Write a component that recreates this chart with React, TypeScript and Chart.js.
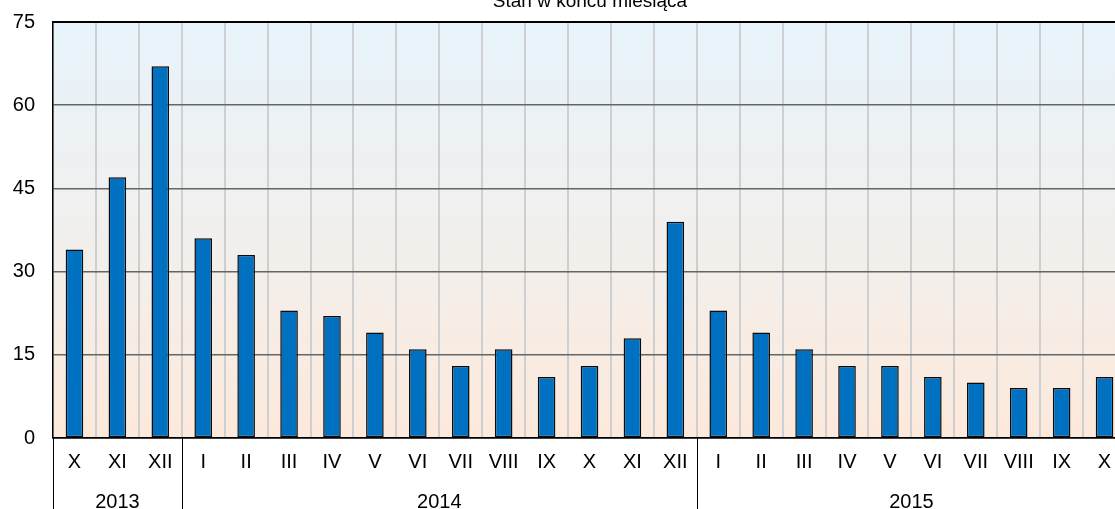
import React, { useEffect, useRef } from "react";
import { Chart, registerables } from "chart.js";

Chart.register(...registerables);

const months = [
  "X", "XI", "XII",
  "I", "II", "III", "IV", "V", "VI", "VII", "VIII", "IX", "X", "XI", "XII",
  "I", "II", "III", "IV", "V", "VI", "VII", "VIII", "IX", "X",
];
const values = [
  34, 47, 67,
  36, 33, 23, 22, 19, 16, 13, 16, 11, 13, 18, 39,
  23, 19, 16, 13, 13, 11, 10, 9, 9, 11,
];
const years = ["2013", "2014", "2015"];
const yearCounts = [3, 12, 10];
const yTicks = [0, 15, 30, 45, 60, 75];
const titleText = "Stan w końcu miesiąca";

const FONT = "'Liberation Sans', Arial, sans-serif";

const bgPlugin = {
  id: "bgGradient",
  beforeDraw(chart: any) {
    const { ctx, chartArea } = chart;
    const g = ctx.createLinearGradient(0, chartArea.top, 0, chartArea.bottom);
    g.addColorStop(0, "#e7f3fb");
    g.addColorStop(0.5, "#f1f0ee");
    g.addColorStop(1, "#fde9db");
    ctx.save();
    ctx.fillStyle = g;
    ctx.fillRect(chartArea.left, chartArea.top, chartArea.right - chartArea.left, chartArea.bottom - chartArea.top);
    ctx.restore();
  },
};

const yearPlugin = {
  id: "yearLabels",
  afterDraw(chart: any) {
    const { ctx, chartArea } = chart;
    const x = chart.scales.x;
    const H = chart.height;
    ctx.save();
    ctx.strokeStyle = "#000";
    ctx.lineWidth = 1;
    ctx.fillStyle = "#000";
    ctx.font = `20px ${FONT}`;
    ctx.textAlign = "center";
    ctx.textBaseline = "middle";
    let start = 0;
    const half = (x.getPixelForValue(1) - x.getPixelForValue(0)) / 2;
    for (let i = 0; i < years.length; i++) {
      const end = start + yearCounts[i] - 1;
      const left = x.getPixelForValue(start) - half;
      const right = x.getPixelForValue(end) + half;
      const lx = Math.round(left) + 0.5;
      ctx.beginPath();
      ctx.moveTo(lx, chartArea.bottom);
      ctx.lineTo(lx, H);
      ctx.stroke();
      ctx.fillText(years[i], (left + right) / 2, 502);
      start = end + 1;
    }
    // title
    ctx.font = `19px ${FONT}`;
    ctx.textBaseline = "alphabetic";
    ctx.fillText(titleText, 590, 7);
    // top border
    ctx.beginPath();
    ctx.lineWidth = 2;
    ctx.moveTo(chartArea.left, chartArea.top);
    ctx.lineTo(chartArea.right, chartArea.top);
    ctx.stroke();
    ctx.restore();
  },
};

export default function App() {
  const ref = useRef<HTMLCanvasElement>(null);
  useEffect(() => {
    const canvas = ref.current!;
    const chart = new Chart(canvas, {
      type: "bar",
      data: {
        labels: months,
        datasets: [
          {
            data: values,
            backgroundColor: "#0070c0",
            borderColor: "#0a0a0a",
            borderWidth: 1.5,
            borderSkipped: false,
            barPercentage: 0.41,
            categoryPercentage: 1,
          },
        ],
      },
      options: {
        responsive: false,
        animation: false,
        layout: { padding: { left: 0, top: 22, right: 0, bottom: 0 } },
        plugins: { legend: { display: false }, title: { display: false }, tooltip: { enabled: false } },
        scales: {
          x: {
            offset: true,
            grid: { offset: true, color: "#cdcfd0", drawTicks: false, lineWidth: 2 },
            border: { display: true, color: "#000", width: 1.5 },
            ticks: { color: "#000", font: { size: 20, family: FONT }, padding: 12, maxRotation: 0, autoSkip: false },
            afterFit(scale: any) { scale.height = 71; scale.paddingLeft = 0; scale.paddingRight = 0; },
          },
          y: {
            min: 0,
            max: 75,
            afterBuildTicks(scale: any) { scale.ticks = yTicks.map((v) => ({ value: v })); },
            grid: {
              color: (c: any) => (c.tick && (c.tick.value === 75 || c.tick.value === 0) ? "#000" : "#626666"),
              drawTicks: false,
              lineWidth: 1.5,
            },
            border: { display: true, color: "#000", width: 1.5 },
            ticks: { color: "#000", font: { size: 20, family: FONT }, padding: 18 },
            afterFit(scale: any) { scale.width = 53; scale.paddingTop = 0; scale.paddingBottom = 0; },
          },
        },
      },
      plugins: [bgPlugin, yearPlugin],
    });
    return () => chart.destroy();
  }, []);
  return (
    <div style={{ position: "fixed", left: 0, top: 0, width: 1115, height: 509, overflow: "hidden", background: "#fff" }}>
      <canvas ref={ref} width={1126} height={509} style={{ display: "block" }} />
    </div>
  );
}
